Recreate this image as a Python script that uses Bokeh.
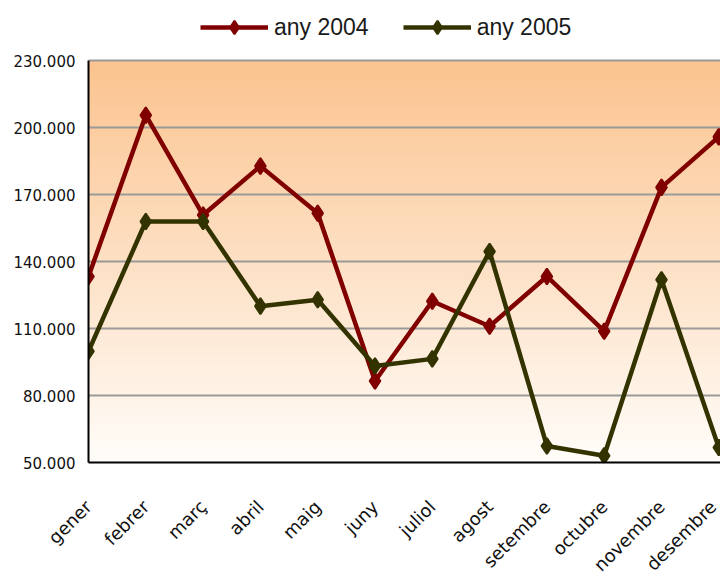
import numpy as np
from math import pi
from bokeh.plotting import figure
from bokeh.models import Range1d, FixedTicker, Legend, LegendItem
from bokeh.embed import file_html
from bokeh.resources import INLINE

# ---- data ----
months = ["gener", "febrer", "març", "abril", "maig", "juny", "juliol",
          "agost", "setembre", "octubre", "novembre", "desembre"]
sales_2004 = [133300, 205500, 160800, 182700, 161600, 86500, 122200,
              111000, 133300, 108800, 173200, 195800]
sales_2005 = [99800, 157900, 157900, 120000, 122900, 93200, 96400,
              144500, 57400, 53000, 131800, 56700]
series_names = ["any 2004", "any 2005"]
series_colors = ["#800000", "#333300"]
y_ticks = [50000, 80000, 110000, 140000, 170000, 200000, 230000]
y_tick_labels = ["50.000", "80.000", "110.000", "140.000", "170.000",
                 "200.000", "230.000"]

# ---- layout (pixels) ----
W, H = 720, 587
frame_left, frame_bottom = 88, 462
plot_top_px = 60            # where the top value sits
frame_w = W - frame_left

x = list(range(len(months)))
x_end = len(months) - 1 + 0.03
y_start, y_top = y_ticks[0], y_ticks[-1]
units_per_px = (y_top - y_start) / (frame_bottom - plot_top_px)
y_end = y_top + plot_top_px * units_per_px   # room above for the legend

p = figure(width=W, height=H, output_backend="svg", toolbar_location=None,
           x_range=Range1d(0, x_end), y_range=Range1d(y_start, y_end),
           min_border_left=frame_left, min_border_top=0,
           min_border_bottom=H - frame_bottom, min_border_right=0)
p.outline_line_color = None
p.background_fill_color = "white"
p.border_fill_color = "white"

# ---- gradient background of the plot area ----
N = 90
edges = np.linspace(y_start, y_top, N + 1)
t = (np.arange(N) + 0.5) / N  # 0 bottom -> 1 top
top_c = np.array([251, 195, 142])
bot_c = np.array([255, 253, 250])
cols = []
for tt in t:
    c = bot_c + (top_c - bot_c) * tt
    cols.append("#%02x%02x%02x" % tuple(int(round(v)) for v in c))
bg = p.quad(left=0, right=x_end, bottom=edges[:-1], top=edges[1:],
            fill_color=cols, line_color=cols, line_width=1)
bg.level = "image"

# ---- grid ----
p.xgrid.visible = False
p.ygrid.ticker = FixedTicker(ticks=y_ticks)
p.ygrid.grid_line_color = "#9a9a9a"
p.ygrid.grid_line_width = 2

# ---- axes ----
p.yaxis.ticker = FixedTicker(ticks=y_ticks)
p.yaxis.bounds = (y_start, y_top)
p.yaxis.major_label_overrides = dict(zip(y_ticks, y_tick_labels))
p.yaxis.axis_line_color = "black"
p.yaxis.axis_line_width = 2
p.yaxis.major_tick_line_color = None
p.yaxis.minor_tick_line_color = None
p.yaxis.major_label_text_font = "DejaVu Sans"
p.yaxis.major_label_text_font_size = "15px"
p.yaxis.major_label_text_color = "#111111"
p.yaxis.major_label_standoff = 7

p.xaxis.ticker = FixedTicker(ticks=x)
p.xaxis.major_label_overrides = dict(zip(x, months))
p.xaxis.major_label_orientation = pi / 4
p.xaxis.axis_line_color = "black"
p.xaxis.axis_line_width = 2
p.xaxis.major_tick_line_color = None
p.xaxis.minor_tick_line_color = None
p.xaxis.major_label_text_font = "DejaVu Sans"
p.xaxis.major_label_text_font_size = "18px"
p.xaxis.major_label_text_color = "#111111"
p.xaxis.major_label_standoff = 35

# ---- series ----
items = []
for name, vals, col in zip(series_names, [sales_2004, sales_2005], series_colors):
    rl = p.line(x, vals, line_color=col, line_width=4.5)
    rm = p.scatter(x, vals, marker="diamond", size=16, line_width=2,
                   fill_color=col, line_color=col)
    items.append(LegendItem(label=name, renderers=[rl, rm]))

legend = Legend(items=items, orientation="horizontal", location=(112, 418),
                glyph_width=68, glyph_height=34, label_text_font="Liberation Sans",
                label_text_font_size="23px", label_text_color="#1a1a1a",
                label_standoff=6, spacing=34, padding=0, margin=0,
                border_line_color=None, background_fill_alpha=0)
p.add_layout(legend)

open("out.html", "w").write(file_html(p, INLINE))
